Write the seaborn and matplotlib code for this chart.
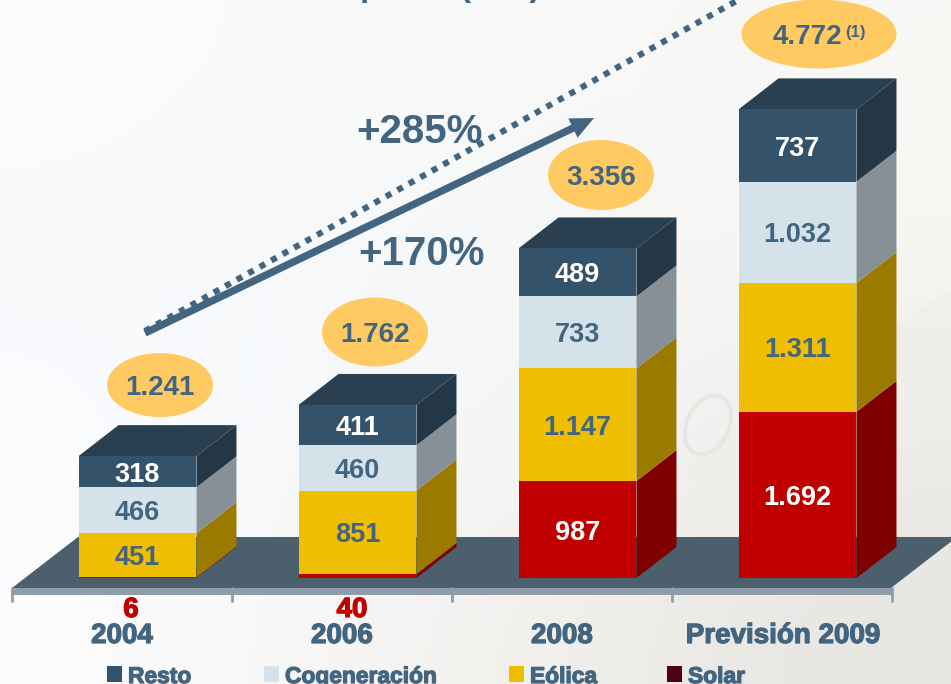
# plot.py
# Stacked "3D" columns, MW per year, on a pale banknote background

import numpy as np
import pandas as pd
import matplotlib.pyplot as plt
import matplotlib.patheffects as pe
from matplotlib.patches import Ellipse, FancyArrowPatch, Polygon, Rectangle
from matplotlib.transforms import Affine2D
import seaborn as sns

years = ['2004', '2006', '2008', 'Previsión 2009']
solar = [6, 40, 987, 1692]
eolica = [451, 851, 1147, 1311]
cogeneracion = [466, 460, 733, 1032]
resto = [318, 411, 489, 737]
totals = ['1.241', '1.762', '3.356', '4.772']
labels_solar = ['6', '40', '987', '1.692']
labels_eolica = ['451', '851', '1.147', '1.311']
labels_cog = ['466', '460', '733', '1.032']
labels_resto = ['318', '411', '489', '737']
growth = ['+285%', '+170%']
legend_names = ['Resto', 'Cogeneración', 'Eólica', 'Solar']

BLUE = '#44657f'
front = {'solar': '#c00000', 'eolica': '#f0be00', 'cog': '#d5e2ea', 'resto': '#34526a'}
side = {'solar': '#7e0000', 'eolica': '#9a7b00', 'cog': '#878f97', 'resto': '#233746'}
TOP = '#2a3f4f'

sns.set_theme(style='white')
plt.rcParams['font.family'] = ['Liberation Sans', 'DejaVu Sans']
plt.rcParams['font.weight'] = 'bold'

W, H = 951, 684
fig = plt.figure(figsize=(W / 100, H / 100), dpi=100)

# washed out background
bg = fig.add_axes([0, 0, 1, 1])
bg_colors = np.array([
    [[252, 252, 252], [250, 250, 250], [248, 248, 248], [248, 249, 245]],
    [[248, 250, 252], [246, 248, 250], [246, 246, 246], [246, 246, 242]],
    [[250, 252, 255], [244, 247, 250], [246, 246, 246], [238, 236, 233]],
    [[252, 252, 253], [246, 245, 243], [240, 238, 234], [230, 229, 225]],
]) / 255
bg.imshow(bg_colors, aspect='auto', interpolation='bicubic')
bg.axis('off')

ax = fig.add_axes([0, 0, 1, 1])
ax.patch.set_alpha(0)

# px draws the decoration in picture pixels, y going down
px = Affine2D().scale(1, -1).translate(0, H)

# faint banknote on the right
ax.add_patch(Polygon([(680, 470), (951, 290), (951, 420), (735, 540)], closed=True,
                     fc='#efeeeb', ec='none', alpha=0.7, transform=px, zorder=0))
ax.add_patch(Ellipse((708, 425), 42, 62, angle=25, fc='none', ec='#e6e6e3', lw=3,
                     transform=px, zorder=0))

# floor
ax.add_patch(Polygon([(12, 588), (78, 537), (957, 537), (891, 588)], closed=True,
                     fc='#4b5f6d', ec='none', transform=px, zorder=1))
ax.add_patch(Rectangle((12, 588), 880, 7, fc='#8f9dab', ec='none', transform=px, zorder=1))
for tick in [12, 232, 452, 672, 892]:
    ax.plot([tick, tick], [588, 601], color='#8f9dab', lw=2, transform=px, zorder=1)

# front faces: tallest first, each stack level painted over the previous
df = pd.DataFrame({'year': years, 'solar': solar, 'eolica': eolica,
                   'cog': cogeneracion, 'resto': resto})
order = ['solar', 'eolica', 'cog', 'resto']
cum = df[order].cumsum(axis=1)
BAR_W = 0.536
for name in order[::-1]:
    sns.barplot(data=cum.assign(year=df['year']), x='year', y=name, color=front[name],
                saturation=1, width=BAR_W, order=years, errorbar=None, ax=ax,
                linewidth=0, zorder=4)

PX_X = 220
PX_Y = 0.0982
ax.set_xlim(-137.5 / PX_X, (W - 137.5) / PX_X)
ax.set_ylim((578 - H) / PX_Y, 578 / PX_Y)
ax.axis('off')

# side and top faces
dx = 40 / PX_X
dy = 31 / PX_Y
for i in range(len(years)):
    x1 = i + BAR_W / 2
    base = 0
    for name in order:
        t = cum[name][i]
        ax.add_patch(Polygon([(x1, base), (x1 + dx, base + dy), (x1 + dx, t + dy), (x1, t)],
                             closed=True, fc=side[name], ec='none', zorder=3))
        base = t
    x0 = i - BAR_W / 2
    ax.add_patch(Polygon([(x0, base), (x0 + dx, base + dy), (x1 + dx, base + dy), (x1, base)],
                         closed=True, fc=TOP, ec='none', zorder=3))

# values inside the segments
for i in range(len(years)):
    bottoms = [0] + [cum[n][i] for n in order[:-1]]
    for name, b, labs in zip(order, bottoms, [labels_solar, labels_eolica, labels_cog, labels_resto]):
        if i < 2 and name == 'solar':
            continue
        col = 'white' if name in ('solar', 'resto') else BLUE
        ax.text(i, b + df[name][i] / 2, labs[i], color=col, fontsize=19.5, fontweight='bold',
                ha='center', va='center_baseline', zorder=6)

# the blurry slide text looks heavier than plain bold
heavy = [pe.withStroke(linewidth=0.9, foreground=BLUE)]

# values too small for their segment
for x, txt in zip([131, 352], labels_solar[:2]):
    ax.text(x, 607, txt, color='#c00000', fontsize=20, fontweight='bold', ha='center',
            va='center_baseline', transform=px, zorder=6,
            path_effects=[pe.withStroke(linewidth=0.9, foreground='#c00000')])

# year labels
for x, txt in zip([122, 342, 562, 783], years):
    ax.text(x, 633, txt, color=BLUE, fontsize=20, fontweight='bold', ha='center',
            va='center_baseline', transform=px, zorder=6, path_effects=heavy)

# total bubbles
bubbles = [(160, 385, 106, 64), (375, 332, 106, 69), (601, 175, 106, 70), (819, 34, 155, 69)]
for (x, y, w, h), txt in zip(bubbles, totals):
    ax.add_patch(Ellipse((x, y), w, h, fc='#ffca62', ec='none', transform=px, zorder=6))
    tx = x - 12 if txt == '4.772' else x
    ax.text(tx, y, txt, color=BLUE, fontsize=20, fontweight='bold', ha='center',
            va='center_baseline', transform=px, zorder=7)
ax.text(855, 31, '(1)', color=BLUE, fontsize=12, fontweight='bold', ha='center',
        va='center_baseline', transform=px, zorder=7)

# growth arrows
ax.plot([145, 740], [331, -1], color=BLUE, lw=4.4, ls=(0, (1, 1.15)),
        dash_capstyle='butt', transform=px, zorder=5)
ax.add_patch(FancyArrowPatch((145, 333), (594, 118), transform=px, zorder=5,
                             arrowstyle='simple,head_length=0.6,head_width=0.55,tail_width=0.19',
                             mutation_scale=28, color=BLUE, lw=0, shrinkA=0, shrinkB=0))
ax.text(420, 128, growth[0], color=BLUE, fontsize=29, fontweight='bold', ha='center',
        va='center_baseline', transform=px, zorder=6)
ax.text(422, 250, growth[1], color=BLUE, fontsize=29, fontweight='bold', ha='center',
        va='center_baseline', transform=px, zorder=6)

# title cut by the top of the slide, only the descenders show
ax.text(370, -4, 'p', color=BLUE, fontsize=24, fontweight='bold', ha='center', va='baseline',
        transform=px, zorder=6)
ax.text(500, -4, '(MW)', color=BLUE, fontsize=24, fontweight='bold', ha='center', va='baseline',
        transform=px, zorder=6)

# legend
legend_x = [107, 264, 509, 667]
legend_colors = [front['resto'], front['cog'], front['eolica'], '#4d0018']
for x, name, col in zip(legend_x, legend_names, legend_colors):
    ax.add_patch(Rectangle((x, 666), 15, 16, fc=col, ec='none', transform=px, zorder=6))
    ax.text(x + 21, 674, name, color=BLUE, fontsize=16.4, fontweight='bold', ha='left',
            va='center_baseline', transform=px, zorder=6, path_effects=heavy)

fig.savefig('out.png', dpi=100)
